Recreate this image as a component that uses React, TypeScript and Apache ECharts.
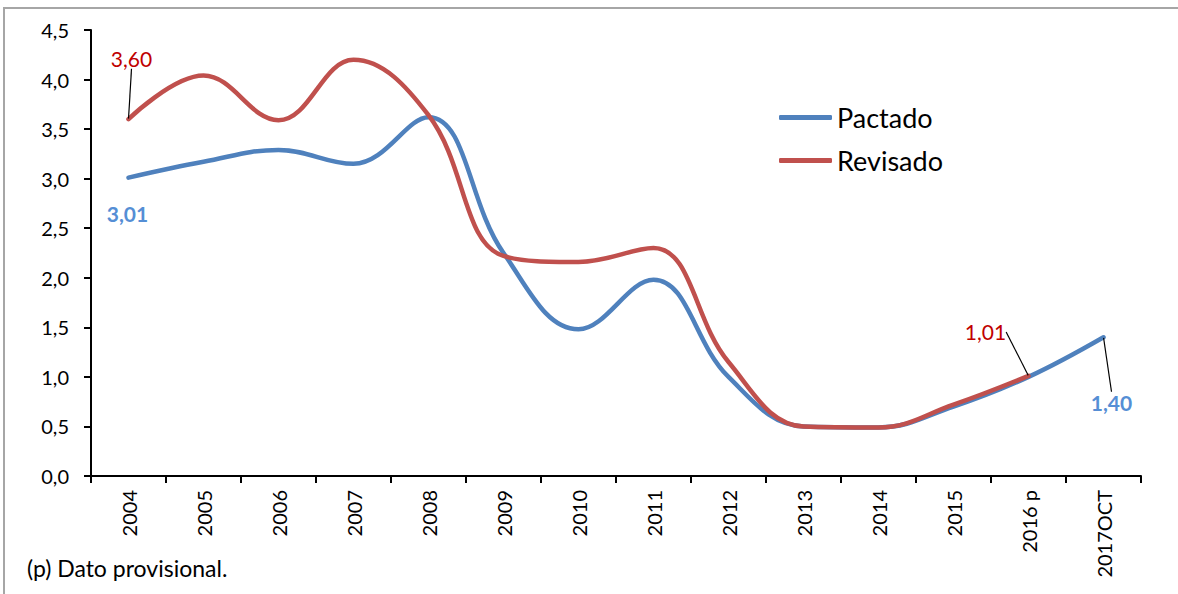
import React, { useEffect, useRef } from "react";
import * as echarts from "echarts";

const categories = ["2004", "2005", "2006", "2007", "2008", "2009", "2010", "2011", "2012", "2013", "2014", "2015", "2016 p", "2017OCT"];
const pactado = [3.01, 3.17, 3.29, 3.15, 3.62, 2.25, 1.48, 1.98, 1.0, 0.5, 0.49, 0.7, 1.0, 1.4];
const revisado = [3.6, 4.04, 3.59, 4.2, 3.64, 2.22, 2.16, 2.3, 1.15, 0.5, 0.49, 0.72, 1.01, null];
const seriesNames = ["Pactado", "Revisado"];
const footnote = "(p) Dato provisional.";

const FONT = "Lato";
const BLUE = "#4F81BD";
const RED = "#C0504D";
const BLUE_LABEL = "#558ED5";
const RED_LABEL = "#C00000";

// label offsets (px) relative to data point, per series index -> data index
const labelOffsets: Record<string, [number, number]> = {
  "0-0": [-1, 36],
  "0-13": [8, 65],
  "1-0": [3, -61],
  "1-12": [-43, -44],
};
const noLeader: Record<string, boolean> = { "0-0": true };

const fmt = (v: number) => v.toFixed(2).replace(".", ",");

function buildData(values: (number | null)[], s: number, color: string, bold: boolean) {
  return values.map((v, i) => {
    const key = `${s}-${i}`;
    if (labelOffsets[key] && v != null) {
      return {
        value: v,
        label: {
          show: true,
          formatter: fmt(v),
          color,
          fontSize: 21,
          fontWeight: bold ? "bold" : "normal",
          fontFamily: FONT,
          position: "inside",
        },
        labelLine: { show: !noLeader[key] },
      };
    }
    return v;
  });
}

export default function App() {
  const ref = useRef<HTMLDivElement>(null);
  useEffect(() => {
    document.body.style.margin = "0";
    const chart = echarts.init(ref.current!, null, { renderer: "svg" });
    chart.setOption({
      animation: false,
      backgroundColor: "#fff",
      grid: { left: 91, right: 37, top: 30, bottom: 118 },
      legend: {
        orient: "vertical",
        left: 774,
        top: 99,
        itemWidth: 53,
        itemHeight: 5,
        itemGap: 16,
        icon: "roundRect",
        data: seriesNames,
        textStyle: { fontFamily: FONT, fontSize: 27, color: "#000" },
      },
      xAxis: {
        type: "category",
        data: categories,
        boundaryGap: true,
        axisLine: { lineStyle: { color: "#000", width: 2 } },
        axisTick: { show: true, length: 7, lineStyle: { color: "#000", width: 2 } },
        axisLabel: { rotate: 90, fontFamily: FONT, fontSize: 20, color: "#000", margin: 14, interval: 0 },
      },
      yAxis: {
        type: "value",
        min: 0,
        max: 4.5,
        interval: 0.5,
        splitLine: { show: false },
        axisLine: { show: true, lineStyle: { color: "#000", width: 2 } },
        axisTick: { show: true, length: 7, lineStyle: { color: "#000", width: 2 } },
        axisLabel: {
          fontFamily: FONT,
          fontSize: 20,
          color: "#000",
          margin: 22,
          formatter: (v: number) => v.toFixed(1).replace(".", ","),
        },
      },
      series: [
        {
          name: seriesNames[0],
          type: "line",
          smooth: 0.4,
          data: buildData(pactado, 0, BLUE_LABEL, true),
          symbol: "circle",
          symbolSize: 1,
          showSymbol: true,
          lineStyle: { color: BLUE, width: 4.5, cap: "round" },
          itemStyle: { color: BLUE },
          label: { show: false },
          labelLine: { show: true, lineStyle: { color: "#000", width: 1.2 } },
          labelLayout: (p: any) => {
            const off = labelOffsets[`0-${p.dataIndex}`];
            if (!off) return {};
            return { dx: off[0], dy: off[1] };
          },
          z: 2,
        },
        {
          name: seriesNames[1],
          type: "line",
          smooth: 0.4,
          data: buildData(revisado, 1, RED_LABEL, false),
          symbol: "circle",
          symbolSize: 1,
          showSymbol: true,
          lineStyle: { color: RED, width: 4.5, cap: "round" },
          itemStyle: { color: RED },
          label: { show: false },
          labelLine: { show: true, lineStyle: { color: "#000", width: 1.2 } },
          labelLayout: (p: any) => {
            const off = labelOffsets[`1-${p.dataIndex}`];
            if (!off) return {};
            return { dx: off[0], dy: off[1] };
          },
          z: 3,
        },
      ],
      graphic: [
        {
          type: "rect",
          shape: { x: 4, y: 8, width: 1300, height: 700 },
          style: { fill: "none", stroke: "#a6a6a6", lineWidth: 2 },
          silent: true,
        },
        {
          type: "text",
          left: 27,
          top: 556,
          style: { text: footnote, fontFamily: FONT, fontSize: 23, fill: "#000" },
        },
      ],
    });
    return () => chart.dispose();
  }, []);
  return <div ref={ref} style={{ width: 1178, height: 594 }} />;
}
